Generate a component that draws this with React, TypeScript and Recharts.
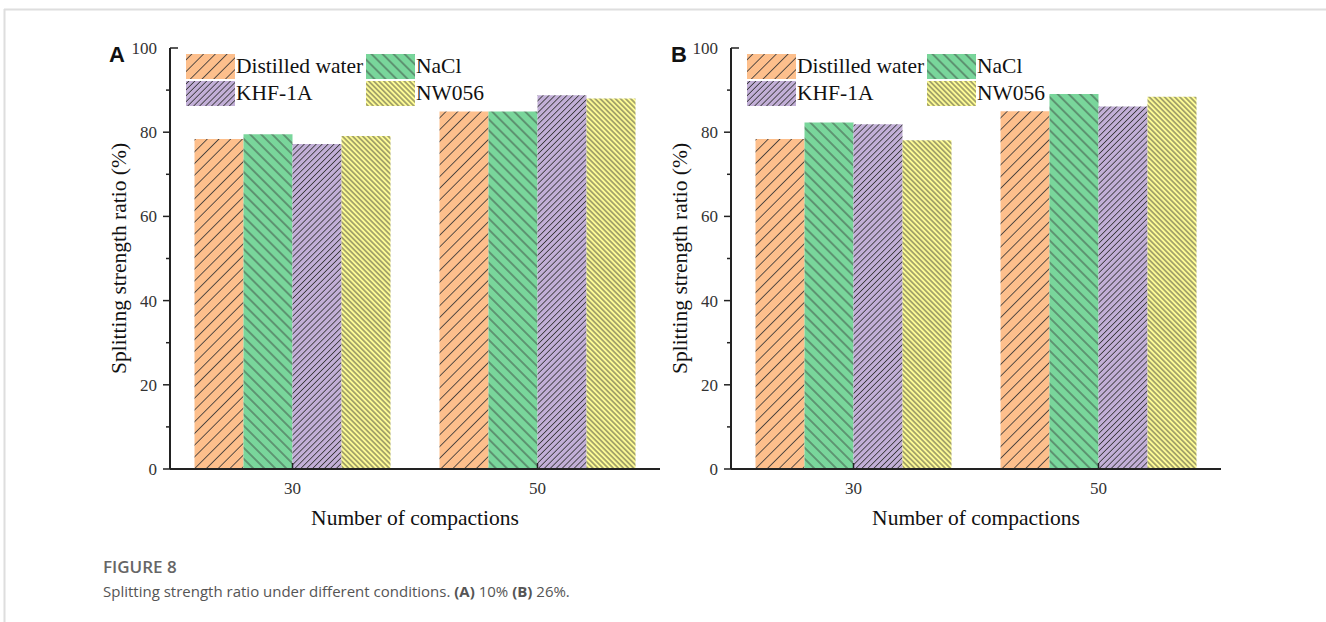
import React from "react"
import { Bar, BarChart, Legend, XAxis, YAxis } from "recharts"

// compaction counts on the x axis
const categories = ["30", "50"]
const seriesNames = ["Distilled water", "NaCl", "KHF-1A", "NW056"]
const yTicks = [0, 10, 20, 30, 40, 50, 60, 70, 80, 90, 100]

// panel A, 10%
const distilledA = [78.4, 84.9]
const naclA = [79.5, 84.9]
const khfA = [77.2, 88.8]
const nwA = [79.1, 88.0]

// panel B, 26%
const distilledB = [78.4, 85.0]
const naclB = [82.3, 89.1]
const khfB = [81.9, 86.1]
const nwB = [78.1, 88.4]

const hatches = [
    { key: "dw", color: "#fdbf8c", gap: 8.3, angle: 45 },
    { key: "nacl", color: "#79d69b", gap: 7.8, angle: -45 },
    { key: "khf", color: "#c2afd7", gap: 4.2, angle: 45 },
    { key: "nw", color: "#fdfb95", gap: 3.6, angle: -45 },
]

const SERIF = "'Liberation Serif', 'Times New Roman', serif"
const TICK_SIZE = 6
const TICK_MARGIN = 6

function buildRows(dw: number[], nacl: number[], khf: number[], nw: number[]) {
    return categories.map((c, i) => ({ cat: c, dw: dw[i], nacl: nacl[i], khf: khf[i], nw: nw[i] }))
}

function HatchDefs({ prefix }: { prefix: string }) {
    return (
        <defs>
            {hatches.map((h) => (
                <pattern
                    key={h.key}
                    id={`${prefix}-${h.key}`}
                    patternUnits="userSpaceOnUse"
                    width={h.gap}
                    height={h.gap}
                    patternTransform={`rotate(${h.angle})`}
                >
                    <rect width={h.gap} height={h.gap} fill={h.color} />
                    <line x1={h.gap / 2} y1={0} x2={h.gap / 2} y2={h.gap} stroke="#333" strokeWidth={0.8} />
                </pattern>
            ))}
        </defs>
    )
}

const YTick = (props: any) => {
    const { x, y, payload } = props
    const v = payload.value
    const ax = x + TICK_SIZE + TICK_MARGIN
    const major = v % 20 === 0
    const x1 = v === 100 ? ax + 8 : ax - (major ? 7 : 4)
    return (
        <g>
            <line x1={x1} x2={ax} y1={y} y2={y} stroke="#222" strokeWidth={1.5} />
            {major && (
                <text x={x - 1} y={y} dy={6} textAnchor="end" fontFamily={SERIF} fontSize={17} fill="#333">
                    {v}
                </text>
            )}
        </g>
    )
}

const XTick = (props: any) => {
    const { x, y, payload } = props
    const ay = y - TICK_SIZE - TICK_MARGIN
    return (
        <g>
            <line x1={x} x2={x} y1={ay} y2={ay - 6} stroke="#222" strokeWidth={1.5} />
            <text x={x} y={y} dy={13} textAnchor="middle" fontFamily={SERIF} fontSize={17} fill="#333">
                {payload.value}
            </text>
        </g>
    )
}

function HatchLegend({ prefix }: { prefix: string }) {
    return (
        <div style={{ display: "grid", gridTemplateColumns: "180px auto", rowGap: 2 }}>
            {seriesNames.map((name, i) => (
                <div key={name} style={{ display: "flex", alignItems: "center", height: 25 }}>
                    <svg width={49} height={25} style={{ flex: "none" }}>
                        <HatchDefs prefix={`${prefix}-lg`} />
                        <rect width={49} height={25} fill={`url(#${prefix}-lg-${hatches[i].key})`} />
                    </svg>
                    <span style={{ fontFamily: SERIF, fontSize: 21.5, color: "#111", marginLeft: 1, whiteSpace: "nowrap" }}>
                        {name}
                    </span>
                </div>
            ))}
        </div>
    )
}

function Panel({ prefix, data, left }: { prefix: string; data: any[]; left: number }) {
    return (
        <div style={{ position: "absolute", left, top: 0 }}>
            <BarChart
                width={700}
                height={540}
                data={data}
                margin={{ top: 48, right: 40, bottom: 11, left: 110 }}
                barCategoryGap="10%"
                barGap={0}
            >
                <HatchDefs prefix={prefix} />
                <XAxis
                    dataKey="cat"
                    height={60}
                    tickSize={TICK_SIZE}
                    tickMargin={TICK_MARGIN}
                    tickLine={false}
                    tick={<XTick />}
                    axisLine={{ stroke: "#222", strokeWidth: 2 }}
                    label={{
                        value: "Number of compactions",
                        position: "center",
                        dy: 18,
                        style: { fontFamily: SERIF, fontSize: 21.5, fill: "#111" },
                    }}
                />
                <YAxis
                    width={60}
                    domain={[0, 100]}
                    ticks={yTicks}
                    interval={0}
                    tickSize={TICK_SIZE}
                    tickMargin={TICK_MARGIN}
                    tickLine={false}
                    tick={<YTick />}
                    axisLine={{ stroke: "#222", strokeWidth: 2 }}
                    label={{
                        value: "Splitting strength ratio (%)",
                        angle: -90,
                        position: "center",
                        dx: -22,
                        style: { fontFamily: SERIF, fontSize: 21.5, fill: "#111", textAnchor: "middle" },
                    }}
                />
                <Legend
                    layout="vertical"
                    align="center"
                    verticalAlign="middle"
                    wrapperStyle={{ left: 186, top: 54, width: 320 }}
                    content={() => <HatchLegend prefix={prefix} />}
                />
                {hatches.map((h, i) => (
                    <Bar
                        key={h.key}
                        dataKey={h.key}
                        name={seriesNames[i]}
                        fill={`url(#${prefix}-${h.key})`}
                        isAnimationActive={false}
                    />
                ))}
            </BarChart>
        </div>
    )
}

export default function App() {
    const dataA = buildRows(distilledA, naclA, khfA, nwA)
    const dataB = buildRows(distilledB, naclB, khfB, nwB)
    return (
        <div style={{ position: "absolute", left: 0, top: 0, width: 1326, height: 622, background: "#fff", overflow: "hidden" }}>
            <svg width={1326} height={622} style={{ position: "absolute", left: 0, top: 0 }}>
                <line x1={4} x2={1326} y1={9.5} y2={9.5} stroke="#dedede" strokeWidth={2} />
                <line x1={4.5} x2={4.5} y1={9} y2={622} stroke="#dedede" strokeWidth={2} />
                <text x={109} y={62} fontFamily="'Liberation Sans', Arial, sans-serif" fontWeight="bold" fontSize={22} fill="#111">
                    A
                </text>
                <text x={671} y={62} fontFamily="'Liberation Sans', Arial, sans-serif" fontWeight="bold" fontSize={22} fill="#111">
                    B
                </text>
                <text x={103} y={573} fontFamily="'Open Sans', sans-serif" fontWeight={600} fontSize={17} fill="#666">
                    FIGURE 8
                </text>
                <text x={103} y={597} fontFamily="'Open Sans', sans-serif" fontSize={15} fill="#555">
                    Splitting strength ratio under different conditions.{" "}
                    <tspan fontWeight="bold">(A)</tspan> 10% <tspan fontWeight="bold">(B)</tspan> 26%.
                </text>
            </svg>
            <Panel prefix="pa" data={dataA} left={0} />
            <Panel prefix="pb" data={dataB} left={561} />
        </div>
    )
}
